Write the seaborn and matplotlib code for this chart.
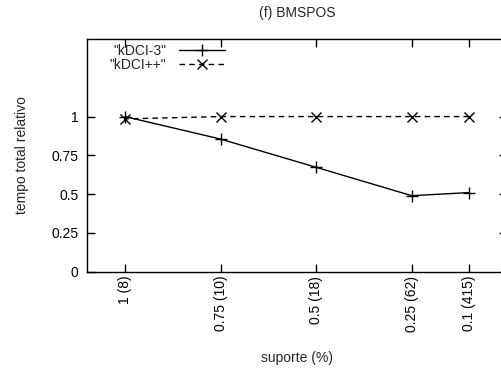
import matplotlib
matplotlib.use("Agg")
import matplotlib.pyplot as plt
import seaborn as sns
import pandas as pd

suporte = [1, 0.75, 0.5, 0.25, 0.1]
tick_labels = ["1 (8)", "0.75 (10)", "0.5 (18)", "0.25 (62)", "0.1 (415)"]
kdci3 = [1.0, 0.855, 0.673, 0.49, 0.51]
kdcipp = [0.985, 1.0, 1.0, 1.0, 1.0]
yticks = [0, 0.25, 0.5, 0.75, 1]
ytick_labels = ["0", "0.25", "0.5", "0.75", "1"]

sns.set_style("ticks")
plt.rcParams['font.family'] = ['Liberation Sans', 'DejaVu Sans']
FS = 10

W, H = 502, 369
fig = plt.figure(figsize=(W / 100, H / 100), dpi=100)
x0, x1, ytop, ybot = 86.7, 507.3, 39.0, 271.7
ax = fig.add_axes([x0 / W, (H - ybot) / H, (x1 - x0) / W, (ybot - ytop) / H])

df3 = pd.DataFrame({"suporte": suporte, "tempo": kdci3})
dfp = pd.DataFrame({"suporte": suporte, "tempo": kdcipp})
sns.lineplot(data=df3, x="suporte", y="tempo", ax=ax, color="black", lw=1.0,
             marker="+", markersize=9, markeredgewidth=1.0,
             markeredgecolor="black", label='"kDCI-3"')
sns.lineplot(data=dfp, x="suporte", y="tempo", ax=ax, color="black", lw=1.0,
             marker="x", markersize=7, markeredgewidth=1.0,
             markeredgecolor="black", label='"kDCI++"')
ax.lines[1].set_dashes([4, 3])

ax.set_xlim(1.1, 0.0)
ax.set_ylim(0, 1.5)
ax.set_xticks(suporte)
ax.set_xticklabels(tick_labels, rotation=90, fontsize=FS)
ax.set_yticks(yticks)
ax.set_yticklabels(ytick_labels, fontsize=FS)
ax.tick_params(direction="in", length=6, width=1.0, top=True, right=True,
               colors="black")
ax.tick_params(axis="y", pad=6)
ax.tick_params(axis="x", pad=3)
for s in ax.spines.values():
    s.set_linewidth(1.0)
    s.set_color("black")
ax.set_xlabel("suporte (%)", fontsize=FS)
ax.set_ylabel("tempo total relativo", fontsize=FS)
ax.xaxis.set_label_coords(0.5, -0.34)
ax.yaxis.set_label_coords(-0.138, 0.5)

leg = ax.legend(loc="upper left", bbox_to_anchor=(0.055, 0.98), frameon=False,
                markerfirst=False, handlelength=3.3, fontsize=FS,
                labelspacing=0.05, handletextpad=0.9, borderaxespad=0,
                borderpad=0)
for h in leg.legend_handles:
    h.set_markeredgecolor("black")

fig.text(297 / W, 1 - 13 / H, "(f) BMSPOS", ha="center", va="center", fontsize=FS)
fig.savefig("out.png", dpi=100)
